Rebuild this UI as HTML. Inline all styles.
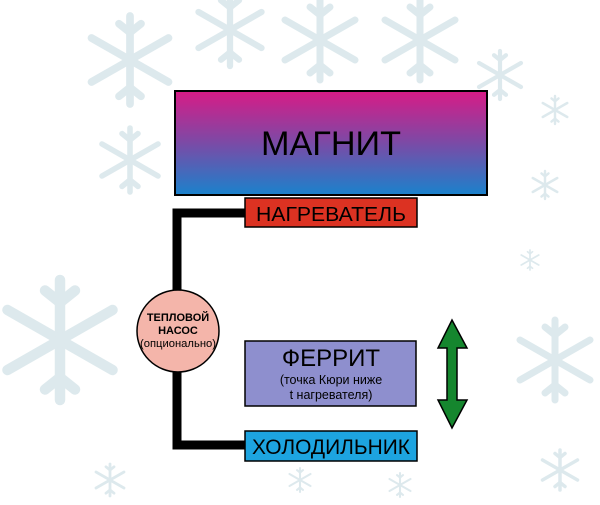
<!DOCTYPE html>
<html><head><meta charset="utf-8"><style>
html,body{margin:0;padding:0;background:#fff;}
svg{display:block;font-family:"Liberation Sans",sans-serif;}
</style></head><body>
<svg width="600" height="505" viewBox="0 0 600 505" xmlns="http://www.w3.org/2000/svg">
<defs>
<linearGradient id="g" x1="0" y1="0" x2="0" y2="1">
<stop offset="0" stop-color="#d81b86"/><stop offset="0.5" stop-color="#7b4aa6"/><stop offset="1" stop-color="#1a82cc"/>
</linearGradient>
<g id="sf" stroke="#c3d8df" stroke-width="7" stroke-linecap="round" fill="none" opacity="0.55">
<line x1="0" y1="-40" x2="0" y2="40"/><line x1="-35" y1="-20" x2="35" y2="20"/><line x1="-35" y1="20" x2="35" y2="-20"/>
<line x1="0" y1="-25" x2="-10" y2="-33"/><line x1="0" y1="-25" x2="10" y2="-33"/>
<line x1="0" y1="25" x2="-10" y2="33"/><line x1="0" y1="25" x2="10" y2="33"/>
</g>
</defs>
<use href="#sf" transform="translate(130,60) scale(1.1)"/>
<use href="#sf" transform="translate(230,30) scale(0.9)"/>
<use href="#sf" transform="translate(320,40) scale(1)"/>
<use href="#sf" transform="translate(420,40) scale(1)"/>
<use href="#sf" transform="translate(500,75) scale(0.6)"/>
<use href="#sf" transform="translate(130,160) scale(0.8)"/>
<use href="#sf" transform="translate(60,340) scale(1.5)"/>
<use href="#sf" transform="translate(555,360) scale(1)"/>
<use href="#sf" transform="translate(555,110) scale(0.35)"/>
<use href="#sf" transform="translate(545,185) scale(0.35)"/>
<use href="#sf" transform="translate(530,260) scale(0.25)"/>
<use href="#sf" transform="translate(560,470) scale(0.5)"/>
<use href="#sf" transform="translate(110,480) scale(0.4)"/>
<use href="#sf" transform="translate(400,485) scale(0.3)"/>
<use href="#sf" transform="translate(300,480) scale(0.3)"/>

<rect x="175" y="91" width="312" height="104" fill="url(#g)" stroke="#000" stroke-width="2"/>
<text x="331" y="155" font-size="34" text-anchor="middle" textLength="140" lengthAdjust="spacingAndGlyphs">МАГНИТ</text>

<path d="M246,213 H177 V445 H246" fill="none" stroke="#000" stroke-width="9"/>

<rect x="245" y="198" width="172" height="29" fill="#dc3222" stroke="#000" stroke-width="1.5"/>
<text x="331" y="221" font-size="20" text-anchor="middle" textLength="150" lengthAdjust="spacingAndGlyphs">НАГРЕВАТЕЛЬ</text>

<circle cx="178" cy="331" r="41" fill="#f4b5aa" stroke="#000" stroke-width="1.5"/>
<text x="178" y="321" font-size="11" font-weight="bold" text-anchor="middle">ТЕПЛОВОЙ</text>
<text x="178" y="334" font-size="11" font-weight="bold" text-anchor="middle">НАСОС</text>
<text x="178" y="347" font-size="11" text-anchor="middle" textLength="76" lengthAdjust="spacingAndGlyphs">(опционально)</text>

<rect x="245" y="341" width="171" height="65" fill="#8e8fce" stroke="#000" stroke-width="1.5"/>
<text x="331" y="366" font-size="24" text-anchor="middle">ФЕРРИТ</text>
<text x="331" y="384" font-size="12.5" text-anchor="middle">(точка Кюри ниже</text>
<text x="331" y="399" font-size="12.5" text-anchor="middle">t нагревателя)</text>

<rect x="245" y="431" width="172" height="30" fill="#1da4e0" stroke="#000" stroke-width="1.5"/>
<text x="331" y="454" font-size="21" text-anchor="middle" textLength="158" lengthAdjust="spacingAndGlyphs">ХОЛОДИЛЬНИК</text>

<polygon points="452,320 467,348 457,348 457,400 467,400 452,428 438,400 447,400 447,348 438,348" fill="#15862e" stroke="#000" stroke-width="1.5"/>
</svg>
</body></html>
